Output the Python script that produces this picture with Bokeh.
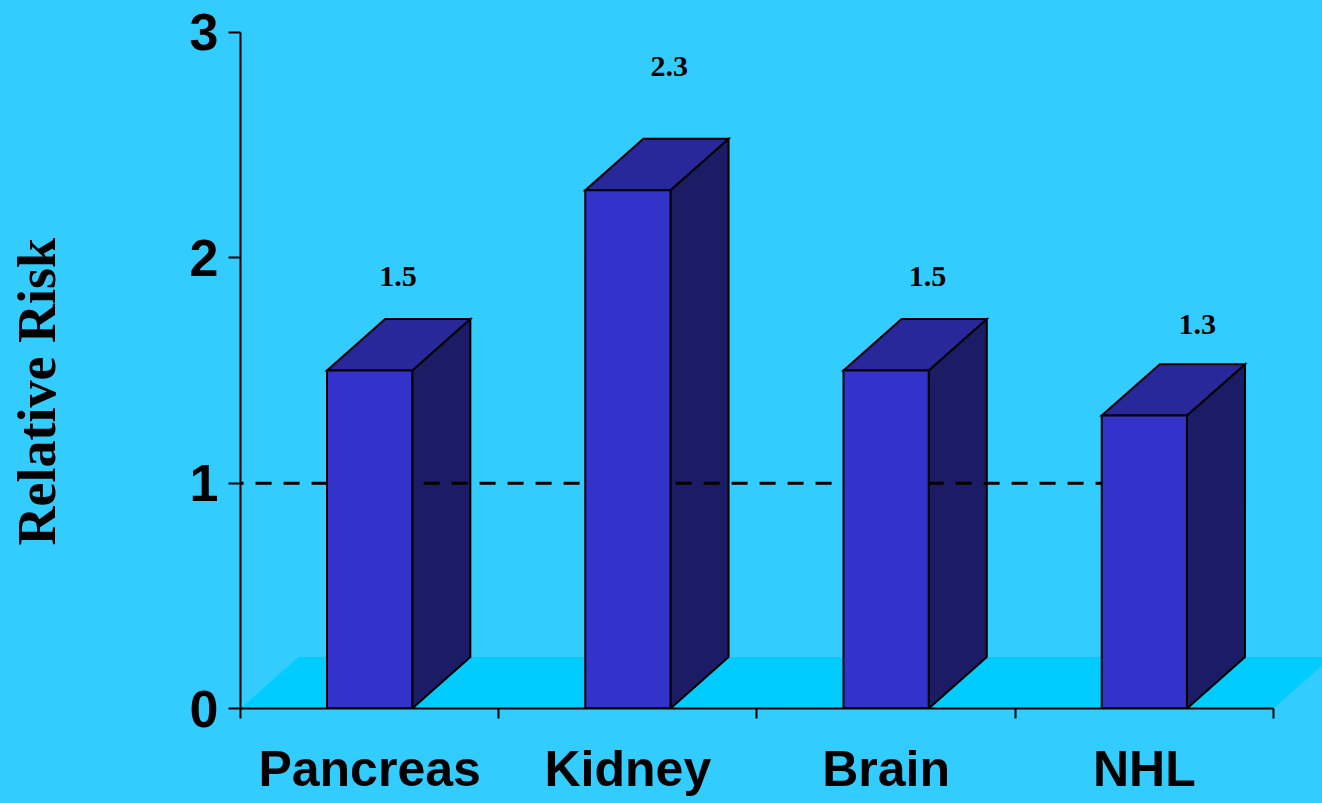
from bokeh.plotting import figure
from bokeh.models import Range1d, FixedTicker, ColumnDataSource, Title
from bokeh.core.properties import value
from bokeh.embed import file_html
from bokeh.resources import INLINE

# ---- data ----
categories = ["Pancreas", "Kidney", "Brain", "NHL"]
relative_risk = [1.5, 2.3, 1.5, 1.3]
value_labels = ["1.5", "2.3", "1.5", "1.3"]
y_ticks = [0, 1, 2, 3]
reference_level = 1.0
y_title = "Relative Risk"

# ---- layout helpers (not data) ----
label_dx = [0.11, 0.16, 0.16, 0.205]      # value-label horizontal offset from category centre
label_y = [1.917, 2.85, 1.917, 1.704]      # value-label heights as placed in the original
half_w = 0.165                             # half width of bar front face (x units)
dx, dy = 0.225, 0.228                      # 3-D depth offset
n = len(categories)

BG = "#33CCFF"
FLOOR = "#00CCFF"
FRONT = "#3333CC"
TOP = "#28289A"
SIDE = "#1C1C66"

p = figure(width=1322, height=803,
           x_range=Range1d(0, 4.19), y_range=Range1d(0, 3.142),
           min_border_left=240, min_border_right=0, min_border_top=0, min_border_bottom=95,
           background_fill_color=BG, border_fill_color=BG, outline_line_color=None,
           output_backend="svg", toolbar_location=None)
p.xgrid.visible = False
p.ygrid.visible = False

# floor
p.patch(x=[0, n, n + dx, dx], y=[0, 0, dy, dy], fill_color=FLOOR, line_color=None)

centers = [i + 0.5 for i in range(n)]
fronts_x, fronts_y, tops_x, tops_y, sides_x, sides_y = [], [], [], [], [], []
for c, v in zip(centers, relative_risk):
    l, r = c - half_w, c + half_w
    fronts_x.append([l, r, r, l]); fronts_y.append([0, 0, v, v])
    tops_x.append([l, r, r + dx, l + dx]); tops_y.append([v, v, v + dy, v + dy])
    sides_x.append([r, r + dx, r + dx, r]); sides_y.append([0, dy, v + dy, v])

p.patches(xs=sides_x, ys=sides_y, fill_color=SIDE, line_color="black", line_width=2, line_join="miter")
p.patches(xs=tops_x, ys=tops_y, fill_color=TOP, line_color="black", line_width=2, line_join="miter")

# reference line at RR = 1
p.line(x=[-0.05, 3.36], y=[reference_level, reference_level], line_color="black",
       line_width=3, line_dash="16 12")

p.patches(xs=fronts_x, ys=fronts_y, fill_color=FRONT, line_color="black", line_width=2, line_join="miter")

# value labels
src = ColumnDataSource(dict(x=[c + d for c, d in zip(centers, label_dx)], y=label_y, t=value_labels))
p.text(x="x", y="y", text="t", source=src, text_font=value("Liberation Serif"),
       text_font_style="bold", text_font_size="30px", text_align="center",
       text_baseline="middle", text_color="black")

# y axis title as a left-side title (starts lower than the frame centre, as in the original)
p.add_layout(Title(text=y_title, align="left", offset=163, standoff=6,
                   text_font="Liberation Serif", text_font_style="bold",
                   text_font_size="54px", text_color="black"), "left")

# y axis
ya = p.yaxis[0]
ya.ticker = FixedTicker(ticks=y_ticks)
ya.bounds = (0, 3)
ya.axis_line_color = "black"
ya.axis_line_width = 2
ya.major_tick_in = 0
ya.major_tick_out = 12
ya.major_tick_line_width = 2
ya.minor_tick_line_color = None
ya.major_label_text_font = "Liberation Sans"
ya.major_label_text_font_style = "bold"
ya.major_label_text_font_size = "52px"
ya.major_label_text_color = "black"
ya.major_label_standoff = 10
# blank axis label used only as a spacer between tick labels and the title
ya.axis_label = " "
ya.axis_label_text_font_size = "10px"
ya.axis_label_standoff = 103

# x axis
xa = p.xaxis[0]
xa.ticker = FixedTicker(ticks=centers, minor_ticks=[0, 1, 2, 3, 4])
xa.major_label_overrides = {c: name for c, name in zip(centers, categories)}
xa.bounds = (0, 4)
xa.axis_line_color = "black"
xa.axis_line_width = 2
xa.major_tick_line_color = None
xa.minor_tick_in = 0
xa.minor_tick_out = 10
xa.minor_tick_line_color = "black"
xa.minor_tick_line_width = 2
xa.major_label_text_font = "Liberation Sans"
xa.major_label_text_font_style = "bold"
xa.major_label_text_font_size = "50px"
xa.major_label_text_color = "black"
xa.major_label_standoff = 22

html = file_html(p, INLINE)
html = html.replace("<head>", "<head><style>html,body{margin:0;padding:0;overflow:hidden;background:#33CCFF}</style>", 1)
open("out.html", "w").write(html)
